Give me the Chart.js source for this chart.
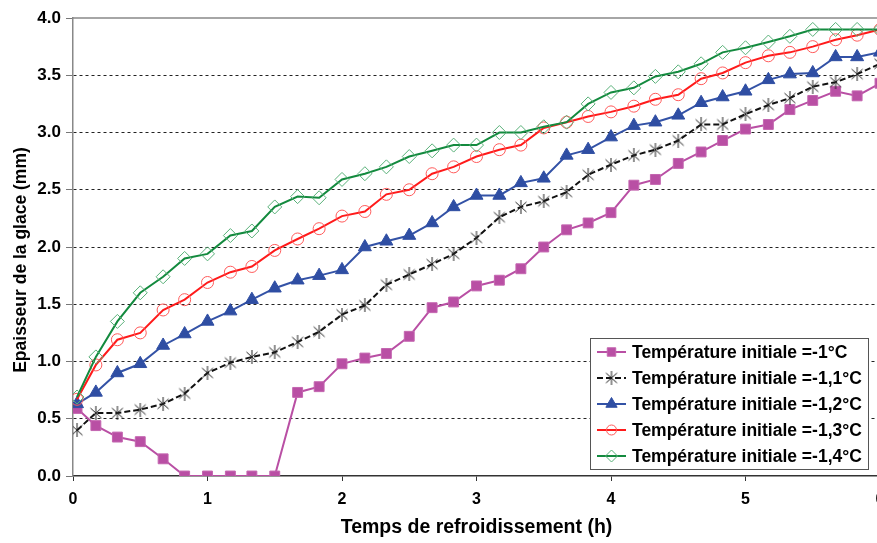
<!DOCTYPE html>
<html lang="fr">
<head>
<meta charset="UTF-8">
<title>Epaisseur de la glace</title>
<script src="https://cdn.jsdelivr.net/npm/chart.js"></script>
<style>
  html, body { margin: 0; padding: 0; background: #fff; overflow: hidden; }
  .wrap { width: 877px; height: 543px; overflow: hidden; }
  canvas { display: block; }
</style>
</head>
<body>
<div class="wrap"><canvas id="glace" width="900" height="543"></canvas></div>
<script>
// temps de refroidissement (h), un point toutes les 10 min
const temps = [0.03, 0.17, 0.33, 0.5, 0.67, 0.83, 1, 1.17, 1.33, 1.5, 1.67, 1.83,
  2, 2.17, 2.33, 2.5, 2.67, 2.83, 3, 3.17, 3.33, 3.5, 3.67, 3.83,
  4, 4.17, 4.33, 4.5, 4.67, 4.83, 5, 5.17, 5.33, 5.5, 5.67, 5.83, 6];

// épaisseur (mm) pour chaque température initiale
const ep10 = [0.59, 0.44, 0.34, 0.30, 0.15, 0, 0, 0, 0, 0, 0.73, 0.78,
  0.98, 1.03, 1.07, 1.22, 1.47, 1.52, 1.66, 1.71, 1.81, 2.00, 2.15, 2.21,
  2.30, 2.54, 2.59, 2.73, 2.83, 2.93, 3.03, 3.07, 3.20, 3.28, 3.36, 3.32, 3.43];
const ep11 = [0.40, 0.55, 0.55, 0.58, 0.63, 0.72, 0.90, 0.99, 1.04, 1.08, 1.17, 1.26,
  1.41, 1.49, 1.67, 1.76, 1.85, 1.94, 2.08, 2.26, 2.35, 2.40, 2.48, 2.63,
  2.72, 2.80, 2.85, 2.93, 3.07, 3.07, 3.16, 3.24, 3.30, 3.40, 3.44, 3.51, 3.60];
const ep12 = [0.63, 0.73, 0.90, 0.98, 1.14, 1.24, 1.35, 1.44, 1.54, 1.64, 1.71, 1.75,
  1.80, 2.00, 2.05, 2.10, 2.21, 2.35, 2.45, 2.45, 2.56, 2.60, 2.80, 2.85,
  2.96, 3.06, 3.09, 3.15, 3.26, 3.31, 3.36, 3.46, 3.51, 3.52, 3.66, 3.66, 3.70];
const ep13 = [0.67, 0.97, 1.19, 1.25, 1.45, 1.54, 1.69, 1.78, 1.83, 1.97, 2.07, 2.16,
  2.27, 2.31, 2.46, 2.50, 2.64, 2.70, 2.79, 2.85, 2.89, 3.04, 3.09, 3.14,
  3.18, 3.23, 3.29, 3.33, 3.47, 3.52, 3.61, 3.67, 3.70, 3.75, 3.81, 3.85, 3.90];
const ep14 = [0.69, 1.04, 1.35, 1.60, 1.74, 1.90, 1.94, 2.10, 2.14, 2.35, 2.44, 2.43,
  2.59, 2.64, 2.70, 2.79, 2.84, 2.89, 2.89, 3.00, 3.00, 3.05, 3.09, 3.25,
  3.35, 3.39, 3.49, 3.53, 3.60, 3.70, 3.74, 3.79, 3.84, 3.90, 3.90, 3.90, 3.90];

const labels = [
  'Température initiale =-1°C',
  'Température initiale =-1,1°C',
  'Température initiale =-1,2°C',
  'Température initiale =-1,3°C',
  'Température initiale =-1,4°C'
];

const FONT = '"Liberation Sans", Arial, sans-serif';

// astérisque à 6 branches (marqueur de la série -1,1°C)
function asterisque() {
  const c = document.createElement('canvas');
  c.width = 14; c.height = 14;
  const g = c.getContext('2d');
  g.strokeStyle = '#222';
  g.lineWidth = 1;
  g.beginPath();
  g.moveTo(7, 0); g.lineTo(7, 14);
  g.moveTo(1.5, 2); g.lineTo(12.5, 12);
  g.moveTo(12.5, 2); g.lineTo(1.5, 12);
  g.stroke();
  return c;
}
const etoile = asterisque();

function pts(vals) {
  return vals.map((v, i) => ({ x: temps[i], y: v }));
}

const datasets = [
  { label: labels[0], data: pts(ep10), borderColor: '#B94FA4', borderWidth: 2,
    pointStyle: 'rect', pointRadius: 7, pointBackgroundColor: '#B94FA4',
    pointBorderColor: '#C466B0', pointBorderWidth: 1, order: 5 },
  { label: labels[1], data: pts(ep11), borderColor: '#111', borderWidth: 2,
    borderDash: [6, 3], pointStyle: etoile, order: 4 },
  { label: labels[2], data: pts(ep12), borderColor: '#3352A6', borderWidth: 2,
    pointStyle: 'triangle', pointRadius: 7.5, pointBackgroundColor: '#2F4EA3',
    pointBorderColor: '#2F4EA3', pointBorderWidth: 1, order: 3 },
  { label: labels[3], data: pts(ep13), borderColor: '#FF1A1A', borderWidth: 2,
    pointStyle: 'circle', pointRadius: 6, pointBackgroundColor: 'rgba(0,0,0,0)',
    pointBorderColor: '#FF5A5A', pointBorderWidth: 1, order: 2 },
  { label: labels[4], data: pts(ep14), borderColor: '#138A3E', borderWidth: 2,
    pointStyle: 'rectRot', pointRadius: 7, pointBackgroundColor: 'rgba(0,0,0,0)',
    pointBorderColor: '#58B078', pointBorderWidth: 1, order: 1 }
];
datasets.forEach(d => { d.fill = false; d.tension = 0; d.pointHoverRadius = d.pointRadius; });

// cadre du haut + titre de l'axe vertical
const cadre = {
  id: 'cadre',
  afterDraw(chart) {
    const { ctx, chartArea: a } = chart;
    ctx.save();
    ctx.strokeStyle = '#888';
    ctx.lineWidth = 1.5;
    ctx.beginPath();
    ctx.moveTo(a.left, a.top);
    ctx.lineTo(a.right + 10, a.top);
    ctx.stroke();
    ctx.translate(21, 260);
    ctx.rotate(-Math.PI / 2);
    ctx.fillStyle = '#000';
    ctx.font = 'bold 17.5px ' + FONT;
    ctx.textAlign = 'center';
    ctx.textBaseline = 'middle';
    ctx.fillText('Epaisseur de la glace (mm)', 0, 0);
    ctx.restore();
  }
};

// légende encadrée dans le coin bas droit
const legende = {
  id: 'legende',
  afterDraw(chart) {
    const ctx = chart.ctx;
    const bx = 590, by = 338, bw = 278, bh = 131;
    ctx.save();
    ctx.fillStyle = '#fff';
    ctx.fillRect(bx, by, bw, bh);
    ctx.strokeStyle = '#555';
    ctx.lineWidth = 1;
    ctx.strokeRect(bx + 0.5, by + 0.5, bw, bh);
    const rows = [352, 378, 404, 430, 456];
    chart.data.datasets.forEach((d, i) => {
      const y = rows[i];
      ctx.save();
      ctx.strokeStyle = d.borderColor;
      ctx.lineWidth = d.borderWidth;
      ctx.setLineDash(d.borderDash || []);
      ctx.beginPath();
      ctx.moveTo(597, y);
      ctx.lineTo(626, y);
      ctx.stroke();
      ctx.setLineDash([]);
      ctx.fillStyle = d.pointBackgroundColor || '#000';
      ctx.strokeStyle = d.pointBorderColor || '#000';
      ctx.lineWidth = d.pointBorderWidth || 1;
      Chart.helpers.drawPoint(ctx, {
        pointStyle: d.pointStyle, radius: (d.pointRadius || 6) - 1,
        rotation: 0, borderWidth: d.pointBorderWidth || 1
      }, 611.5, y);
      ctx.restore();
      ctx.fillStyle = '#000';
      ctx.font = 'bold 17.5px ' + FONT;
      ctx.textBaseline = 'middle';
      ctx.textAlign = 'left';
      ctx.fillText(d.label, 632, y + 1);
    });
    ctx.restore();
  }
};

new Chart(document.getElementById('glace'), {
  type: 'line',
  data: { datasets },
  plugins: [cadre, legende],
  options: {
    responsive: false,
    animation: false,
    layout: { autoPadding: false, padding: { top: 18, right: 20, left: 0, bottom: 0 } },
    plugins: { legend: { display: false }, tooltip: { enabled: false } },
    scales: {
      x: {
        type: 'linear', min: 0, max: 6,
        afterFit: s => { s.height = 67; },
        ticks: { stepSize: 1, color: '#000', padding: 9,
          font: { family: FONT, size: 16, weight: 'bold' } },
        grid: { drawOnChartArea: false, tickLength: 5, tickColor: '#333' },
        border: { color: '#333', width: 1.5 },
        title: { display: true, text: 'Temps de refroidissement (h)', color: '#000',
          font: { family: FONT, size: 19.5, weight: 'bold' }, padding: { top: 0, bottom: 4 } }
      },
      y: {
        min: 0, max: 4,
        afterFit: s => { s.width = 73; },
        ticks: { stepSize: 0.5, color: '#000', padding: 5,
          callback: v => v.toFixed(1),
          font: { family: FONT, size: 17, weight: 'bold' } },
        grid: {
          color: c => (c.tick && (c.tick.value === 0 || c.tick.value === 4)) ? 'rgba(0,0,0,0)' : '#222',
          lineWidth: 1, tickLength: 7, tickColor: '#777'
        },
        border: { color: '#888', width: 1.5, dash: [3, 3] }
      }
    }
  }
});
</script>
</body>
</html>
